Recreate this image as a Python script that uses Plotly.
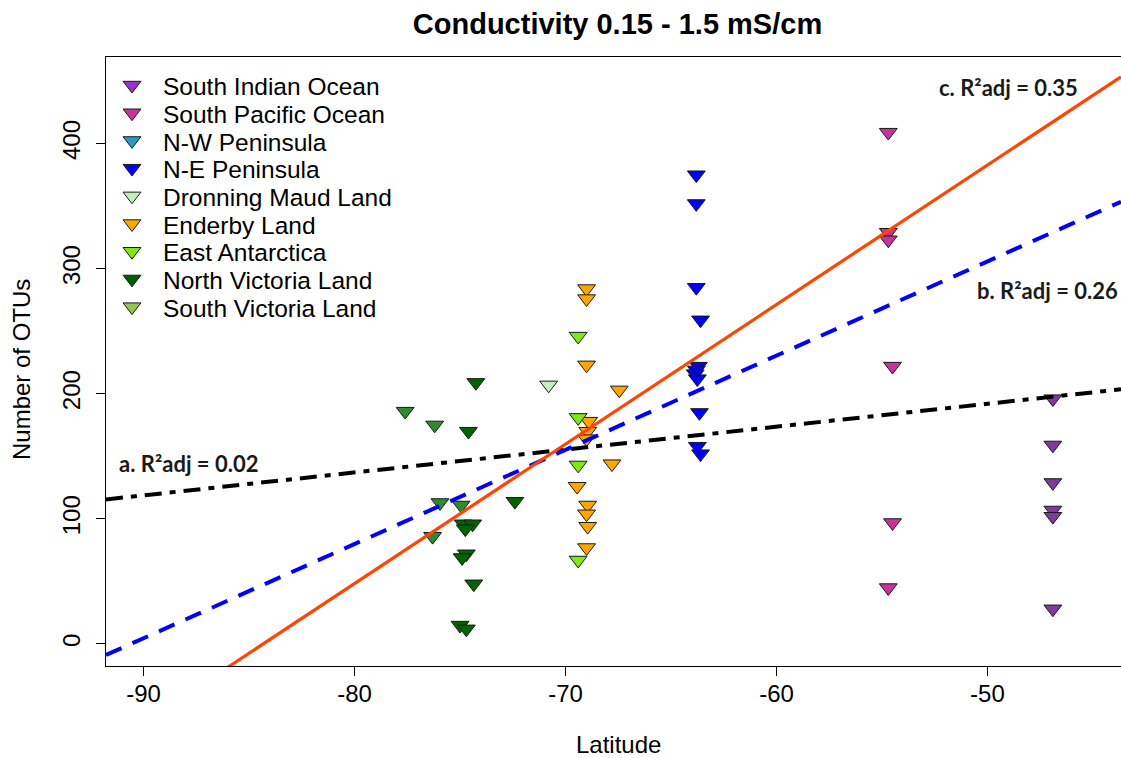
import numpy as np
import plotly.graph_objects as go

# ---------------- data ----------------
regions = ["South Indian Ocean", "South Pacific Ocean", "N-W Peninsula", "N-E Peninsula",
           "Dronning Maud Land", "Enderby Land", "East Antarctica",
           "North Victoria Land", "South Victoria Land"]
legend_colors = ["#9A32CD", "#CC3399", "#2A9BC8", "#0000FF", "#C1EEC1",
                 "#FFA500", "#7FE817", "#005C00", "#92C451"]
point_colors = ["#7D3C98", "#CC3399", "#2A9BC8", "#0000FF", "#C1EEC1",
                "#FFA500", "#7FE817", "#006400", "#2E8B2E"]

sio_lat = [-46.9, -46.9, -46.9, -46.9, -46.9, -46.9]
sio_otus = [196, 159, 129, 107, 102, 28]

spo_lat = [-54.7, -54.7, -54.7, -54.5, -54.5, -54.7]
spo_otus = [409, 329, 323, 222, 97, 45]

nwp_lat = []
nwp_otus = []

nep_lat = [-63.8, -63.8, -63.8, -63.6, -63.7, -63.8, -63.85, -63.75, -63.65, -63.75, -63.6]
nep_otus = [375, 352, 285, 259, 222, 219, 216, 212, 185, 158, 152]

dml_lat = [-70.8]
dml_otus = [207]

enderby_lat = [-69.0, -69.0, -69.0, -67.45, -68.9, -68.95, -69.0, -67.8, -69.45,
               -68.95, -69.0, -68.95, -69.0]
enderby_otus = [284, 276, 223, 203, 178, 170, 164, 144, 126, 111, 104, 94, 77]

east_ant_lat = [-69.4, -69.4, -69.4, -69.4]
east_ant_otus = [246, 181, 143, 67]

nvl_lat = [-74.25, -74.6, -72.4, -74.85, -74.4, -74.75, -74.7, -74.9, -74.35, -75.0, -74.7]
nvl_otus = [209, 170, 114, 96, 96, 92, 72, 69, 48, 15, 12]

svl_lat = [-77.6, -76.2, -75.95, -74.95, -76.3]
svl_otus = [186, 175, 113, 111, 86]

# linear fits: OTUs = intercept + slope * latitude
fit_labels = ["a. R²adj = 0.02", "b. R²adj = 0.26", "c. R²adj = 0.35"]
fit_intercepts = [283.5, 682.3, 940.3]
fit_slopes = [1.83, 7.53, 11.15]

x_ticks = [-90, -80, -70, -60, -50]
x_ticktext = ["-90", "-80", "-70", "-60", "-50"]
y_ticks = [0, 100, 200, 300, 400]

# ---------------- figure ----------------
W, H = 1121, 758
L, R, T, B = 106, 0, 57, 92
x_range = [-91.78, -43.67]
y_range = [-17.6, 469.2]

series = [(sio_lat, sio_otus), (spo_lat, spo_otus), (nwp_lat, nwp_otus),
          (nep_lat, nep_otus), (dml_lat, dml_otus), (enderby_lat, enderby_otus),
          (east_ant_lat, east_ant_otus), (nvl_lat, nvl_otus), (svl_lat, svl_otus)]

fig = go.Figure()
marker_size = 15.5
for name, col, (lat, otus) in zip(regions, point_colors, series):
    fig.add_trace(go.Scatter(
        x=lat, y=otus, mode="markers", name=name, showlegend=False,
        marker=dict(symbol="triangle-down", size=marker_size, color=col,
                    line=dict(color="#1a1a1a", width=1))))

line_styles = [dict(color="#000000", width=4, dash="17px,8px,6px,8px"),
               dict(color="#0000FF", width=4, dash="17px,12px"),
               dict(color="#FF4500", width=3.2)]
xs = np.array(x_range)
for lab, b0, b1, st in zip(fit_labels, fit_intercepts, fit_slopes, line_styles):
    fig.add_trace(go.Scatter(x=xs, y=b0 + b1 * xs, mode="lines", line=st,
                             showlegend=False, hoverinfo="skip", name=lab))

# legend drawn in pixel space on an overlay axis pair
row0, row_step = 86.7, 27.7
rows = [row0 + i * row_step for i in range(len(regions))]
fig.add_trace(go.Scatter(
    x=[132] * len(regions), y=[r - 1.5 for r in rows], mode="markers",
    xaxis="x2", yaxis="y2", showlegend=False, hoverinfo="skip",
    marker=dict(symbol="triangle-down", size=marker_size, color=legend_colors,
                line=dict(color="#1a1a1a", width=1))))

annotations = []
for name, r in zip(regions, rows):
    annotations.append(dict(x=161, y=r, xref="x2", yref="y2", text=name,
                            showarrow=False, xanchor="left", yanchor="middle",
                            font=dict(family="Liberation Sans, Arial", size=24.5, color="#000")))

fit_font = dict(family="Lato, Open Sans", size=22, color="#1a1a1a", weight="bold")
fit_pos = [(188, 463), (1047, 290), (1008, 87)]
for lab, (px, py) in zip(fit_labels, fit_pos):
    annotations.append(dict(x=px, y=py, xref="x2", yref="y2", text=lab, showarrow=False,
                            xanchor="center", yanchor="middle", font=fit_font))

# axis titles
annotations.append(dict(x=(618 - L) / (W - L - R), y=(H - 744 - B) / (H - T - B),
                        xref="paper", yref="paper", text="Latitude", showarrow=False,
                        xanchor="center", yanchor="middle",
                        font=dict(family="Liberation Sans, Arial", size=24, color="#000")))
annotations.append(dict(x=(22 - L) / (W - L - R), y=(H - 370 - B) / (H - T - B),
                        xref="paper", yref="paper", text="Number of OTUs", showarrow=False,
                        textangle=-90, xanchor="center", yanchor="middle",
                        font=dict(family="Liberation Sans, Arial", size=24, color="#000")))

axis_font = dict(family="Liberation Sans, Arial", size=24, color="#000")
fig.update_layout(
    width=W, height=H,
    margin=dict(l=L, r=R, t=T, b=B, pad=0),
    paper_bgcolor="white", plot_bgcolor="white",
    title=dict(text="<b>Conductivity 0.15 - 1.5 mS/cm</b>", x=617.5 / W, xref="container",
               xanchor="center", y=1 - 24 / H, yref="container", yanchor="middle",
               font=dict(family="Liberation Sans, Arial", size=29, color="#000")),
    xaxis=dict(range=x_range, tickvals=x_ticks, ticktext=x_ticktext, ticks="outside",
               ticklen=9, tickcolor="#000", tickwidth=1, showline=True, linecolor="#000",
               linewidth=1, mirror=True, showgrid=False, zeroline=False,
               tickfont=axis_font, ticklabelstandoff=-3),
    yaxis=dict(range=y_range, tickvals=y_ticks, ticks="outside", ticklen=9,
               tickcolor="#000", tickwidth=1, showline=True, linecolor="#000",
               linewidth=1, showgrid=False, zeroline=False, tickangle=-90,
               tickfont=axis_font, ticklabelstandoff=6),
    xaxis2=dict(range=[L, W - R], overlaying="x", visible=False, fixedrange=True),
    yaxis2=dict(range=[H - B, T], overlaying="y", visible=False, fixedrange=True),
    annotations=annotations,
    showlegend=False,
)

fig.write_html("out.html")
